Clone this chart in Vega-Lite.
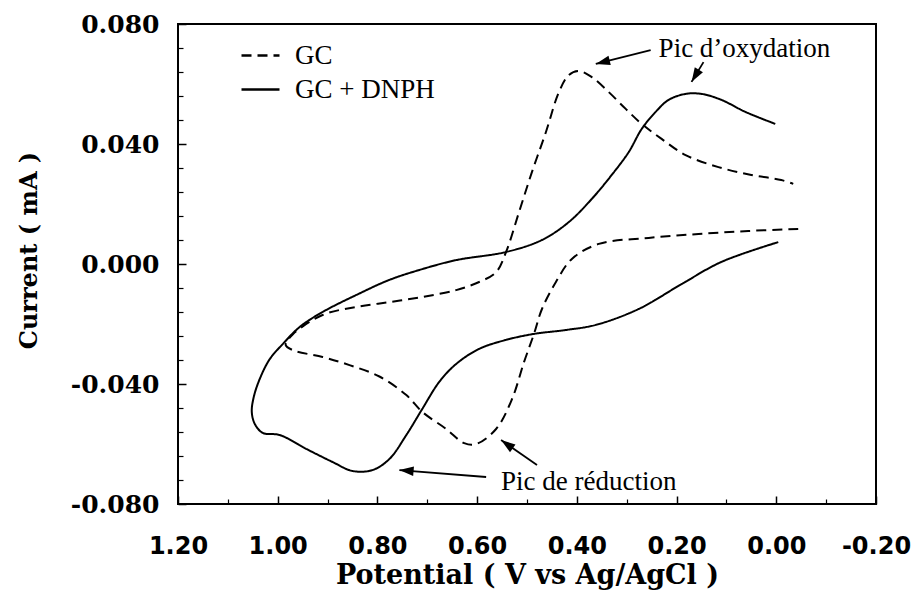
{
  "$schema": "https://vega.github.io/schema/vega-lite/v6.json",
  "width": 698,
  "height": 480,
  "autosize": {"type": "none"},
  "padding": {"left": 178, "top": 24, "right": 39, "bottom": 93},
  "background": "white",
  "config": {
    "view": {"stroke": "black", "strokeWidth": 2},
    "axis": {"grid": false, "domain": false, "tickColor": "black", "labelColor": "black", "titleColor": "black"}
  },
  "datasets": {
    "cv": [
      {"series": "GC", "seq": 1, "V": -0.044, "I": 0.0117},
      {"series": "GC", "seq": 2, "V": 0.056, "I": 0.011},
      {"series": "GC", "seq": 3, "V": 0.156, "I": 0.010},
      {"series": "GC", "seq": 4, "V": 0.256, "I": 0.0087},
      {"series": "GC", "seq": 5, "V": 0.356, "I": 0.0067},
      {"series": "GC", "seq": 6, "V": 0.41, "I": 0.0017},
      {"series": "GC", "seq": 7, "V": 0.442, "I": -0.006},
      {"series": "GC", "seq": 8, "V": 0.47, "I": -0.015},
      {"series": "GC", "seq": 9, "V": 0.486, "I": -0.0233},
      {"series": "GC", "seq": 10, "V": 0.506, "I": -0.0327},
      {"series": "GC", "seq": 11, "V": 0.53, "I": -0.045},
      {"series": "GC", "seq": 12, "V": 0.562, "I": -0.055},
      {"series": "GC", "seq": 13, "V": 0.602, "I": -0.06},
      {"series": "GC", "seq": 14, "V": 0.626, "I": -0.0597},
      {"series": "GC", "seq": 15, "V": 0.662, "I": -0.055},
      {"series": "GC", "seq": 16, "V": 0.71, "I": -0.0493},
      {"series": "GC", "seq": 17, "V": 0.742, "I": -0.0437},
      {"series": "GC", "seq": 18, "V": 0.796, "I": -0.0375},
      {"series": "GC", "seq": 19, "V": 0.856, "I": -0.0337},
      {"series": "GC", "seq": 20, "V": 0.91, "I": -0.031},
      {"series": "GC", "seq": 21, "V": 0.97, "I": -0.0287},
      {"series": "GC", "seq": 22, "V": 0.984, "I": -0.027},
      {"series": "GC", "seq": 23, "V": 0.97, "I": -0.0235},
      {"series": "GC", "seq": 24, "V": 0.91, "I": -0.017},
      {"series": "GC", "seq": 25, "V": 0.842, "I": -0.0143},
      {"series": "GC", "seq": 26, "V": 0.776, "I": -0.0127},
      {"series": "GC", "seq": 27, "V": 0.71, "I": -0.011},
      {"series": "GC", "seq": 28, "V": 0.642, "I": -0.0087},
      {"series": "GC", "seq": 29, "V": 0.596, "I": -0.006},
      {"series": "GC", "seq": 30, "V": 0.562, "I": -0.0027},
      {"series": "GC", "seq": 31, "V": 0.542, "I": 0.004},
      {"series": "GC", "seq": 32, "V": 0.516, "I": 0.0173},
      {"series": "GC", "seq": 33, "V": 0.49, "I": 0.0307},
      {"series": "GC", "seq": 34, "V": 0.462, "I": 0.044},
      {"series": "GC", "seq": 35, "V": 0.436, "I": 0.0573},
      {"series": "GC", "seq": 36, "V": 0.416, "I": 0.063},
      {"series": "GC", "seq": 37, "V": 0.396, "I": 0.0643},
      {"series": "GC", "seq": 38, "V": 0.37, "I": 0.0623},
      {"series": "GC", "seq": 39, "V": 0.336, "I": 0.0573},
      {"series": "GC", "seq": 40, "V": 0.302, "I": 0.0517},
      {"series": "GC", "seq": 41, "V": 0.27, "I": 0.0467},
      {"series": "GC", "seq": 42, "V": 0.23, "I": 0.0417},
      {"series": "GC", "seq": 43, "V": 0.182, "I": 0.0363},
      {"series": "GC", "seq": 44, "V": 0.116, "I": 0.0323},
      {"series": "GC", "seq": 45, "V": 0.05, "I": 0.0297},
      {"series": "GC", "seq": 46, "V": -0.01, "I": 0.028},
      {"series": "GC", "seq": 47, "V": -0.034, "I": 0.0267},
      {"series": "GC + DNPH", "seq": 1, "V": -0.004, "I": 0.0073},
      {"series": "GC + DNPH", "seq": 2, "V": 0.11, "I": 0.0007},
      {"series": "GC + DNPH", "seq": 3, "V": 0.19, "I": -0.0067},
      {"series": "GC + DNPH", "seq": 4, "V": 0.276, "I": -0.015},
      {"series": "GC + DNPH", "seq": 5, "V": 0.362, "I": -0.0203},
      {"series": "GC + DNPH", "seq": 6, "V": 0.422, "I": -0.022},
      {"series": "GC + DNPH", "seq": 7, "V": 0.486, "I": -0.0233},
      {"series": "GC + DNPH", "seq": 8, "V": 0.542, "I": -0.0253},
      {"series": "GC + DNPH", "seq": 9, "V": 0.596, "I": -0.0283},
      {"series": "GC + DNPH", "seq": 10, "V": 0.642, "I": -0.0333},
      {"series": "GC + DNPH", "seq": 11, "V": 0.676, "I": -0.0393},
      {"series": "GC + DNPH", "seq": 12, "V": 0.71, "I": -0.0483},
      {"series": "GC + DNPH", "seq": 13, "V": 0.742, "I": -0.057},
      {"series": "GC + DNPH", "seq": 14, "V": 0.776, "I": -0.065},
      {"series": "GC + DNPH", "seq": 15, "V": 0.81, "I": -0.0687},
      {"series": "GC + DNPH", "seq": 16, "V": 0.85, "I": -0.069},
      {"series": "GC + DNPH", "seq": 17, "V": 0.89, "I": -0.066},
      {"series": "GC + DNPH", "seq": 18, "V": 0.942, "I": -0.0617},
      {"series": "GC + DNPH", "seq": 19, "V": 0.996, "I": -0.057},
      {"series": "GC + DNPH", "seq": 20, "V": 1.03, "I": -0.0563},
      {"series": "GC + DNPH", "seq": 21, "V": 1.046, "I": -0.0533},
      {"series": "GC + DNPH", "seq": 22, "V": 1.052, "I": -0.0493},
      {"series": "GC + DNPH", "seq": 23, "V": 1.048, "I": -0.0443},
      {"series": "GC + DNPH", "seq": 24, "V": 1.036, "I": -0.0383},
      {"series": "GC + DNPH", "seq": 25, "V": 1.016, "I": -0.0317},
      {"series": "GC + DNPH", "seq": 26, "V": 0.99, "I": -0.0267},
      {"series": "GC + DNPH", "seq": 27, "V": 0.956, "I": -0.021},
      {"series": "GC + DNPH", "seq": 28, "V": 0.91, "I": -0.016},
      {"series": "GC + DNPH", "seq": 29, "V": 0.842, "I": -0.0103},
      {"series": "GC + DNPH", "seq": 30, "V": 0.776, "I": -0.0053},
      {"series": "GC + DNPH", "seq": 31, "V": 0.71, "I": -0.0017},
      {"series": "GC + DNPH", "seq": 32, "V": 0.642, "I": 0.0013},
      {"series": "GC + DNPH", "seq": 33, "V": 0.542, "I": 0.004},
      {"series": "GC + DNPH", "seq": 34, "V": 0.47, "I": 0.008},
      {"series": "GC + DNPH", "seq": 35, "V": 0.416, "I": 0.014},
      {"series": "GC + DNPH", "seq": 36, "V": 0.37, "I": 0.0217},
      {"series": "GC + DNPH", "seq": 37, "V": 0.33, "I": 0.0297},
      {"series": "GC + DNPH", "seq": 38, "V": 0.296, "I": 0.0373},
      {"series": "GC + DNPH", "seq": 39, "V": 0.27, "I": 0.045},
      {"series": "GC + DNPH", "seq": 40, "V": 0.242, "I": 0.0507},
      {"series": "GC + DNPH", "seq": 41, "V": 0.216, "I": 0.0547},
      {"series": "GC + DNPH", "seq": 42, "V": 0.182, "I": 0.0567},
      {"series": "GC + DNPH", "seq": 43, "V": 0.15, "I": 0.0567},
      {"series": "GC + DNPH", "seq": 44, "V": 0.11, "I": 0.0547},
      {"series": "GC + DNPH", "seq": 45, "V": 0.062, "I": 0.0507},
      {"series": "GC + DNPH", "seq": 46, "V": 0.002, "I": 0.0467}
    ],
    "arrows": [
      {"id": "ox1", "V1": 0.252, "I1": 0.0713, "V2": 0.362, "I2": 0.0667},
      {"id": "ox2", "V1": 0.146, "I1": 0.0673, "V2": 0.17, "I2": 0.0607},
      {"id": "red1", "V1": 0.582, "I1": -0.071, "V2": 0.756, "I2": -0.0687},
      {"id": "red2", "V1": 0.48, "I1": -0.067, "V2": 0.552, "I2": -0.0587}
    ],
    "labels": [
      {"text": "Pic d’oxydation", "V": 0.236, "I": 0.069},
      {"text": "Pic de réduction", "V": 0.552, "I": -0.0753}
    ]
  },
  "layer": [
    {
      "data": {"name": "cv"},
      "mark": {"type": "line", "color": "black", "strokeWidth": 2, "interpolate": "catmull-rom"},
      "encoding": {
        "x": {"field": "V", "type": "quantitative", "title": "Potential ( V vs Ag/AgCl )",
          "scale": {"domain": [-0.2, 1.2], "reverse": true, "nice": false, "zero": false},
          "axis": {"orient": "bottom", "values": [1.2, 1.0, 0.8, 0.6, 0.4, 0.2, 0.0, -0.2], "format": ".2f",
            "labelExpr": "replace(datum.label, '−', '-')",
            "labelFont": "DejaVu Sans", "labelFontWeight": "bold", "labelFontSize": 24, "labelPadding": 38,
            "tickSize": -8, "tickWidth": 1.5, "labelFlush": false,
            "titleFont": "DejaVu Serif", "titleFontWeight": "bold", "titleFontSize": 27, "titlePadding": 4}},
        "y": {"field": "I", "type": "quantitative", "title": "Current ( mA )",
          "scale": {"domain": [-0.08, 0.08], "nice": false, "zero": false},
          "axis": {"orient": "left", "values": [-0.08, -0.04, 0, 0.04, 0.08], "format": ".3f",
            "labelExpr": "replace(datum.label, '−', '-')",
            "labelFont": "DejaVu Serif", "labelFontWeight": "bold", "labelFontSize": 25, "labelPadding": 27,
            "tickSize": -8, "tickWidth": 1.5, "labelFlush": false,
            "titleFont": "DejaVu Serif", "titleFontWeight": "bold", "titleFontSize": 24, "titlePadding": 29, "titleY": 226}},
        "strokeDash": {"field": "series", "type": "nominal",
          "scale": {"domain": ["GC", "GC + DNPH"], "range": [[10, 6], [1, 0]]},
          "legend": {"orient": "none", "legendX": 62, "legendY": 11, "title": null,
            "symbolType": "stroke", "symbolSize": 1444, "symbolStrokeWidth": 2.5, "symbolStrokeColor": "black",
            "labelFont": "Liberation Serif", "labelFontSize": 27, "labelColor": "black",
            "labelOffset": 14, "rowPadding": 0, "labelLimit": 300}},
        "order": {"field": "seq", "type": "quantitative"}
      }
    },
    {
      "data": {"name": "arrows"},
      "mark": {"type": "rule", "color": "black", "strokeWidth": 1.8},
      "encoding": {
        "x": {"field": "V1", "type": "quantitative",
          "scale": {"domain": [-0.2, 1.2], "reverse": true, "nice": false, "zero": false},
          "axis": {"orient": "bottom", "values": [1.1, 0.9, 0.7, 0.5, 0.3, 0.1, -0.1], "labels": false, "title": null, "tickSize": -5, "tickWidth": 1.2}},
        "x2": {"field": "V2"},
        "y": {"field": "I1", "type": "quantitative",
          "scale": {"domain": [-0.08, 0.08], "nice": false, "zero": false},
          "axis": {"orient": "left", "values": [-0.072, -0.064, -0.056, -0.048, -0.032, -0.024, -0.016, -0.008, 0.008, 0.016, 0.024, 0.032, 0.048, 0.056, 0.064, 0.072], "labels": false, "title": null, "tickSize": -5, "tickWidth": 1.2}},
        "y2": {"field": "I2"}
      }
    },
    {
      "data": {"name": "arrows"},
      "transform": [{"filter": "datum.id == 'ox1'"}],
      "mark": {"type": "point", "shape": "M0,0L-0.5,1.5L0.5,1.5Z", "filled": true, "color": "black", "opacity": 1, "size": 361, "angle": 256},
      "encoding": {"x": {"field": "V2", "type": "quantitative", "axis": null}, "y": {"field": "I2", "type": "quantitative", "axis": null}}
    },
    {
      "data": {"name": "arrows"},
      "transform": [{"filter": "datum.id == 'ox2'"}],
      "mark": {"type": "point", "shape": "M0,0L-0.5,1.5L0.5,1.5Z", "filled": true, "color": "black", "opacity": 1, "size": 361, "angle": 211},
      "encoding": {"x": {"field": "V2", "type": "quantitative", "axis": null}, "y": {"field": "I2", "type": "quantitative", "axis": null}}
    },
    {
      "data": {"name": "arrows"},
      "transform": [{"filter": "datum.id == 'red1'"}],
      "mark": {"type": "point", "shape": "M0,0L-0.5,1.5L0.5,1.5Z", "filled": true, "color": "black", "opacity": 1, "size": 361, "angle": 275},
      "encoding": {"x": {"field": "V2", "type": "quantitative", "axis": null}, "y": {"field": "I2", "type": "quantitative", "axis": null}}
    },
    {
      "data": {"name": "arrows"},
      "transform": [{"filter": "datum.id == 'red2'"}],
      "mark": {"type": "point", "shape": "M0,0L-0.5,1.5L0.5,1.5Z", "filled": true, "color": "black", "opacity": 1, "size": 361, "angle": 305},
      "encoding": {"x": {"field": "V2", "type": "quantitative", "axis": null}, "y": {"field": "I2", "type": "quantitative", "axis": null}}
    },
    {
      "data": {"name": "labels"},
      "mark": {"type": "text", "align": "left", "baseline": "alphabetic", "font": "Liberation Serif", "fontSize": 27, "color": "black"},
      "encoding": {
        "x": {"field": "V", "type": "quantitative", "axis": null},
        "y": {"field": "I", "type": "quantitative", "axis": null},
        "text": {"field": "text", "type": "nominal"}
      }
    }
  ],
  "resolve": {"axis": {"x": "independent", "y": "independent"}}
}
